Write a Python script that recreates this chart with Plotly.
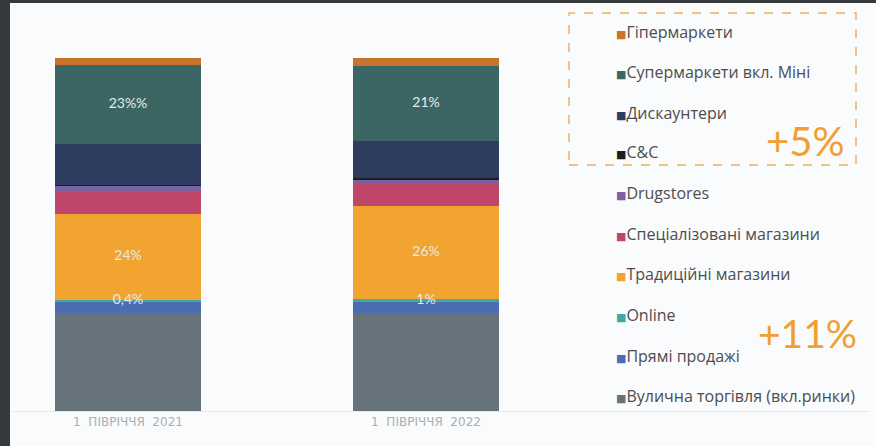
import plotly.graph_objects as go
import numpy as np

# ---------------- data ----------------
periods = ["1  ПІВРІЧЧЯ  2021", "1  ПІВРІЧЧЯ  2022"]
# segments listed bottom -> top
segments = ["Вулична торгівля (вкл.ринки)", "Прямі продажі", "Online",
            "Традиційні магазини", "Спеціалізовані магазини", "Drugstores",
            "C&C", "Дискаунтери", "Супермаркети вкл. Міні", "Гіпермаркети"]
street    = [27.8, 27.8]
direct    = [3.3, 3.0]
online    = [0.4, 1.0]
tradition = [24.4, 26.3]
special   = [6.2, 6.5]
drug      = [1.7, 1.1]
cc        = [0.3, 0.3]
discount  = [11.6, 10.5]
super_    = [22.4, 21.2]
hyper     = [1.9, 2.3]
values = [street, direct, online, tradition, special, drug, cc, discount, super_, hyper]
colors = ["#67737b", "#4b6db2", "#3fa9a3", "#f2a431", "#c0476a", "#7a62a0",
          "#1e1e1e", "#2e3c60", "#3c6664", "#c8742c"]

# data labels: segment -> texts
labels = {"Супермаркети вкл. Міні": ["23%%", "21%"],
          "Традиційні магазини": ["24%", "26%"],
          "Online": ["0,4%", "1%"]}
highlights = ["+5%", "+11%"]

# ---------------- layout geometry ----------------
W_PX, H_PX = 876, 446
L, R, T, B = 12, 6, 58, 35
PW, PH = W_PX - L - R, H_PX - T - B
ppu = 298.0            # pixels per x unit (bar spacing)
c0 = 128.0             # pixel center of first bar
x0 = (L - c0) / ppu
x1 = x0 + PW / ppu

def px(xp):
    return (xp - L) / PW

def py(yp):
    return (H_PX - B - yp) / PH

xs = [0, 1]
fig = go.Figure()
for name, vals, col in zip(segments, values, colors):
    fig.add_trace(go.Bar(x=xs, y=vals, name=name, marker=dict(color=col, line=dict(width=0)),
                         width=0.49, showlegend=False, hoverinfo="name+y"))

# label positions from cumulative stack
cum = np.cumsum(np.array(values), axis=0)
lx, ly, lt = [], [], []
for name, texts in labels.items():
    i = segments.index(name)
    for j in range(2):
        lx.append(xs[j])
        ly.append(cum[i][j] - values[i][j] / 2)
        lt.append(texts[j])
fig.add_trace(go.Scatter(x=lx, y=ly, text=lt, mode="text", showlegend=False,
                         textfont=dict(family="Lato", size=14, color="#e6eaea"),
                         hoverinfo="skip"))

# legend drawn as annotations (top -> bottom)
ann = []
leg_y = [32, 72, 113, 152, 193, 234, 274, 315, 356, 396]
for k, (name, col) in enumerate(zip(segments[::-1], colors[::-1])):
    ann.append(dict(xref="paper", yref="paper", x=px(614), y=py(leg_y[k]),
                    xanchor="left", yanchor="middle", showarrow=False,
                    text=f"<span style='font-family:DejaVu Sans;font-size:11px;color:{col}'>■</span>{name}",
                    font=dict(family="Open Sans", size=16, color="#4d4d4d")))
ann.append(dict(xref="paper", yref="paper", x=px(846), y=py(141), xanchor="right",
                yanchor="middle", showarrow=False, text=highlights[0],
                font=dict(family="Lato", size=40, color="#f0a032")))
ann.append(dict(xref="paper", yref="paper", x=px(859), y=py(333), xanchor="right",
                yanchor="middle", showarrow=False, text=highlights[1],
                font=dict(family="Lato", size=39, color="#f0a032")))

shapes = [
    # dark frame strips
    dict(type="rect", xref="paper", yref="paper", x0=px(0), x1=px(10), y0=py(H_PX), y1=py(0),
         fillcolor="#36393c", line=dict(width=0), layer="above"),
    dict(type="rect", xref="paper", yref="paper", x0=px(0), x1=px(W_PX), y0=py(3), y1=py(0),
         fillcolor="#36393c", line=dict(width=0), layer="above"),
    # dashed highlight box
    dict(type="rect", xref="paper", yref="paper", x0=px(569), x1=px(856), y0=py(165), y1=py(13),
         fillcolor="rgba(0,0,0,0)", line=dict(color="#f2b060", width=1.5, dash="dash")),
]

fig.update_layout(
    width=W_PX, height=H_PX, barmode="stack",
    margin=dict(l=L, r=R, t=T, b=B),
    paper_bgcolor="#fafbfc", plot_bgcolor="#fafbfc",
    xaxis=dict(range=[x0, x1], tickvals=xs, ticktext=periods, showgrid=False, zeroline=False,
               showline=True, linecolor="#e6eaee", linewidth=1,
               tickfont=dict(family="DejaVu Sans", size=12, color="#aaaeb2")),
    yaxis=dict(range=[0, 100], visible=False),
    annotations=ann, shapes=shapes,
)

fig.write_html("out.html")
